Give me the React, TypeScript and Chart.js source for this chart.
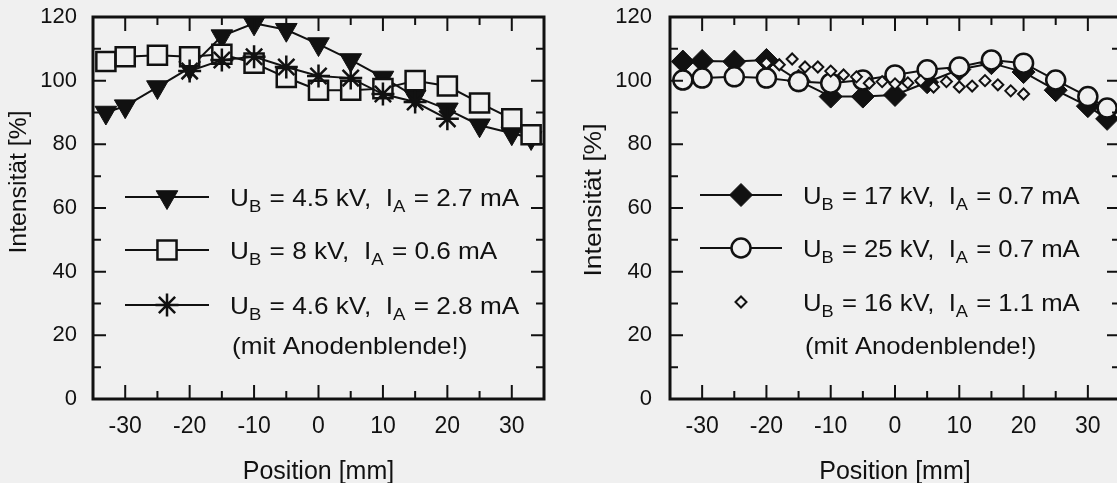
import React, { useEffect, useRef } from 'react';
import { Chart, registerables } from 'chart.js';
import { drawPoint } from 'chart.js/helpers';

Chart.register(...registerables);

// ---------- data ----------
const leftPositions = [-33, -30, -25, -20, -15, -10, -5, 0, 5, 10, 15, 20, 25, 30, 33];
const triangleValues = [90, 92, 98, 104, 114, 118, 116, 111.5, 106.5, 101, 95, 91, 86, 83.5, 82];
const squareValues = [106, 107.5, 108, 107.5, 108.3, 105.5, 101, 97, 97, 97.5, 100, 98.3, 93, 88, 83];
const starPositions = [-20, -15, -10, -5, 0, 5, 10, 15, 20];
const starValues = [103, 106.5, 107.5, 104.3, 101.5, 100.8, 95.8, 93.3, 88];

const rightPositions = [-33, -30, -25, -20, -15, -10, -5, 0, 5, 10, 15, 20, 25, 30, 33];
const diamondValues = [106, 106.2, 106, 106.5, 100, 95, 95, 95.5, 99.5, 103.5, 105.5, 102.7, 97, 92, 88];
const circleValues = [100.2, 100.8, 101.2, 100.8, 99.7, 99.2, 100.2, 101.8, 103.4, 104.3, 106.5, 105.5, 100.2, 95, 91.4];
const smallPositions = [-20, -18, -16, -14, -12, -10, -8, -6, -4, -2, 0, 2, 4, 6, 8, 10, 12, 14, 16, 18, 20];
const smallValues = [105.5, 105, 106.8, 104.3, 104.3, 103, 101.8, 101.2, 99.2, 99.7, 99, 99.3, 100, 98, 99.7, 98, 98.3, 100, 98.7, 96.8, 95.8];

const leftVoltages = ['4.5 kV', '8 kV', '4.6 kV'];
const leftCurrents = ['2.7 mA', '0.6 mA', '2.8 mA'];
const rightVoltages = ['17 kV', '25 kV', '16 kV'];
const rightCurrents = ['0.7 mA', '0.7 mA', '1.1 mA'];
const legendNote = '(mit Anodenblende!)';
const xTitle = 'Position [mm]';
const yTitle = 'Intensität [%]';

// ---------- style ----------
const BG = '#f0f0f0';
const INK = '#111111';
const FONT = '"Liberation Sans", Arial, Helvetica, sans-serif';

const pts = (xs: number[], ys: number[]) => xs.map((x, i) => ({ x, y: ys[i] }));

const framePlugin = {
  id: 'frame',
  afterDraw(chart: any) {
    const { ctx, chartArea: a, scales } = chart;
    const opts = chart.options.plugins.frame || {};
    ctx.save();
    ctx.strokeStyle = INK;
    ctx.lineWidth = 2;
    for (const t of scales.x.ticks) {
      const px = scales.x.getPixelForValue(t.value);
      if (px <= a.left + 1 || px >= a.right - 1) continue;
      const len = t.value % 10 === 0 ? 14 : 8;
      ctx.beginPath();
      ctx.moveTo(px, a.bottom);
      ctx.lineTo(px, a.bottom - len);
      ctx.moveTo(px, a.top);
      ctx.lineTo(px, a.top + len);
      ctx.stroke();
    }
    for (const t of scales.y.ticks) {
      const py = scales.y.getPixelForValue(t.value);
      if (py <= a.top + 1 || py >= a.bottom - 1) continue;
      const len = t.value % 20 === 0 ? 13 : 8;
      ctx.beginPath();
      ctx.moveTo(a.left, py);
      ctx.lineTo(a.left + len, py);
      ctx.moveTo(a.right, py);
      ctx.lineTo(a.right - len, py);
      ctx.stroke();
    }
    ctx.lineWidth = 3;
    ctx.strokeRect(a.left, a.top, a.right - a.left, a.bottom - a.top);

    if (opts.yTitle) {
      ctx.font = `23px ${FONT}`;
      ctx.fillStyle = INK;
      const w = ctx.measureText(yTitle).width;
      const s = opts.yTitle.len / w;
      ctx.translate(opts.yTitle.x, opts.yTitle.y);
      ctx.rotate(-Math.PI / 2);
      ctx.scale(s, 1);
      ctx.textAlign = 'center';
      ctx.textBaseline = 'middle';
      ctx.fillText(yTitle, 0, 0);
    }
    ctx.restore();
  },
};

const legendPlugin = {
  id: 'customLegend',
  afterDraw(chart: any) {
    const cfg = chart.options.plugins.customLegend;
    if (!cfg) return;
    const { ctx } = chart;
    ctx.save();
    cfg.rows.forEach((row: any, i: number) => {
      const ds = chart.data.datasets[row.ds];
      ctx.strokeStyle = INK;
      if (ds.showLine) {
        ctx.lineWidth = 2;
        ctx.beginPath();
        ctx.moveTo(cfg.lineX0, row.y);
        ctx.lineTo(cfg.lineX1, row.y);
        ctx.stroke();
      }
      ctx.fillStyle = ds.pointBackgroundColor;
      ctx.strokeStyle = ds.pointBorderColor;
      ctx.lineWidth = ds.pointBorderWidth;
      drawPoint(ctx, {
        pointStyle: ds.pointStyle,
        radius: ds.pointRadius,
        rotation: ds.pointRotation || 0,
        borderWidth: ds.pointBorderWidth,
      } as any, (cfg.lineX0 + cfg.lineX1) / 2, row.y);

      ctx.fillStyle = INK;
      ctx.textBaseline = 'alphabetic';
      ctx.textAlign = 'left';
      const main = `24px ${FONT}`;
      const sub = `17px ${FONT}`;
      const segs: [string, boolean][] = [
        ['U', false], ['B', true], [` = ${cfg.volt[i]},  I`, false], ['A', true], [` = ${cfg.curr[i]}`, false],
      ];
      ctx.save();
      ctx.translate(cfg.textX, row.y + 9);
      ctx.scale(cfg.hs, 1);
      let x = 0;
      for (const [t, isSub] of segs) {
        ctx.font = isSub ? sub : main;
        ctx.fillText(t, x, isSub ? 6 : 0);
        x += ctx.measureText(t).width + (isSub ? 1 : 0);
      }
      ctx.restore();
    });
    ctx.font = `24px ${FONT}`;
    ctx.fillStyle = INK;
    ctx.save();
    ctx.translate(cfg.textX + 2, cfg.noteY + 9);
    ctx.scale(cfg.hs, 1);
    ctx.fillText(legendNote, 0, 0);
    ctx.restore();
    ctx.restore();
  },
};

function baseOptions(yWidth: number, padRight: number, yPad: number, frame: any, legend: any) {
  return {
    responsive: false,
    maintainAspectRatio: false,
    animation: false,
    layout: { padding: { top: 17, right: padRight, left: 0, bottom: 0 } },
    plugins: {
      legend: { display: false },
      tooltip: { enabled: false },
      frame,
      customLegend: legend,
    },
    scales: {
      x: {
        type: 'linear',
        min: -35,
        max: 35,
        grid: { display: false, drawTicks: false },
        border: { display: false },
        ticks: {
          stepSize: 5,
          autoSkip: false,
          maxRotation: 0,
          padding: 14,
          color: INK,
          font: { family: FONT, size: 23 },
          callback: (v: number) => (v % 10 === 0 ? String(v) : ''),
        },
        title: {
          display: true,
          text: xTitle,
          color: INK,
          font: { family: FONT, size: 25, lineHeight: 0.9 },
          padding: { top: 0, bottom: 0 },
        },
        afterFit: (s: any) => { s.height = 84; s.paddingLeft = 0; s.paddingRight = 0; },
      },
      y: {
        type: 'linear',
        min: 0,
        max: 120,
        grid: { display: false, drawTicks: false },
        border: { display: false },
        ticks: {
          stepSize: 10,
          autoSkip: false,
          padding: yPad,
          color: INK,
          font: { family: FONT, size: 22 },
          callback: (v: number) => (v % 20 === 0 ? String(v) : ''),
        },
        afterFit: (s: any) => { s.width = yWidth; s.paddingTop = 0; s.paddingBottom = 0; },
      },
    },
  };
}

export default function App() {
  const leftRef = useRef<HTMLCanvasElement>(null);
  const rightRef = useRef<HTMLCanvasElement>(null);

  useEffect(() => {
    document.body.style.margin = '0';
    document.body.style.background = BG;

    const left = new Chart(leftRef.current as HTMLCanvasElement, {
      type: 'scatter',
      data: {
        datasets: [
          {
            label: 'star',
            data: pts(starPositions, starValues),
            showLine: true,
            borderColor: INK,
            borderWidth: 2,
            pointStyle: 'star',
            pointRadius: 11.5,
            pointBackgroundColor: INK,
            pointBorderColor: INK,
            pointBorderWidth: 2.5,
          },
          {
            label: 'square',
            data: pts(leftPositions, squareValues),
            showLine: true,
            borderColor: INK,
            borderWidth: 2,
            pointStyle: 'rect',
            pointRadius: 13.5,
            pointBackgroundColor: BG,
            pointBorderColor: INK,
            pointBorderWidth: 2.5,
          },
          {
            label: 'triangle',
            data: pts(leftPositions, triangleValues),
            showLine: true,
            borderColor: INK,
            borderWidth: 2,
            pointStyle: 'triangle',
            pointRotation: 180,
            pointRadius: 12.5,
            pointBackgroundColor: INK,
            pointBorderColor: INK,
            pointBorderWidth: 1,
          },
        ],
      },
      options: baseOptions(93, 11, 16, { yTitle: { x: 20, y: 182, len: 143 } }, {
        lineX0: 125, lineX1: 209, textX: 230, hs: 1.09, noteY: 345,
        volt: leftVoltages, curr: leftCurrents,
        rows: [{ y: 197, ds: 2 }, { y: 250, ds: 1 }, { y: 305, ds: 0 }],
      }) as any,
      plugins: [framePlugin, legendPlugin],
    });

    const right = new Chart(rightRef.current as HTMLCanvasElement, {
      type: 'scatter',
      data: {
        datasets: [
          {
            label: 'small',
            data: pts(smallPositions, smallValues),
            showLine: false,
            borderColor: INK,
            borderWidth: 2,
            pointStyle: 'rectRot',
            pointRadius: 5.5,
            pointBackgroundColor: BG,
            pointBorderColor: INK,
            pointBorderWidth: 2,
          },
          {
            label: 'circle',
            data: pts(rightPositions, circleValues),
            showLine: true,
            borderColor: INK,
            borderWidth: 2,
            pointStyle: 'circle',
            pointRadius: 9.5,
            pointBackgroundColor: BG,
            pointBorderColor: INK,
            pointBorderWidth: 2.5,
          },
          {
            label: 'diamond',
            data: pts(rightPositions, diamondValues),
            showLine: true,
            borderColor: INK,
            borderWidth: 2,
            pointStyle: 'rectRot',
            pointRadius: 11.5,
            pointBackgroundColor: INK,
            pointBorderColor: INK,
            pointBorderWidth: 1,
          },
        ],
      },
      options: baseOptions(110, 15, 18, { yTitle: { x: 35, y: 200, len: 153 } }, {
        lineX0: 140, lineX1: 222, textX: 243, hs: 1.07, noteY: 345,
        volt: rightVoltages, curr: rightCurrents,
        rows: [{ y: 195, ds: 2 }, { y: 248, ds: 1 }, { y: 302, ds: 0 }],
      }) as any,
      plugins: [framePlugin, legendPlugin],
    });

    return () => {
      left.destroy();
      right.destroy();
    };
  }, []);

  return (
    <div style={{ position: 'fixed', left: 0, top: 0, width: 1117, height: 483, overflow: 'hidden', background: BG }}>
      <canvas ref={leftRef} width={560} height={483} style={{ position: 'absolute', left: 0, top: 0 }} />
      <canvas ref={rightRef} width={575} height={483} style={{ position: 'absolute', left: 560, top: 0 }} />
    </div>
  );
}
